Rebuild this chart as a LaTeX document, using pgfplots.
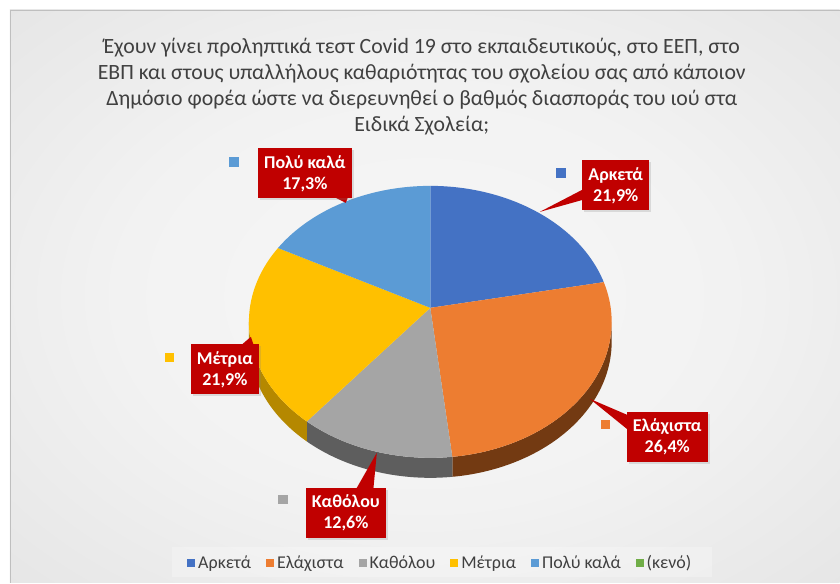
\documentclass[border=0pt]{standalone}
\usepackage{fontspec}
\setmainfont{Carlito}
\usepackage{pgfplots}
\pgfplotsset{compat=1.18}
\usetikzlibrary{shadows}
\definecolor{cA}{HTML}{4472C4}
\definecolor{cE}{HTML}{ED7D31}
\definecolor{cK}{HTML}{A5A5A5}
\definecolor{cM}{HTML}{FFC000}
\definecolor{cP}{HTML}{5B9BD5}
\definecolor{cN}{HTML}{70AD47}
\definecolor{sE}{HTML}{733A12}
\definecolor{sK}{HTML}{5E5E5E}
\definecolor{sM}{HTML}{B58800}
\definecolor{lab}{HTML}{C00000}
\definecolor{ttl}{HTML}{404040}
\pgfdeclareradialshading{bgshade}{\pgfpoint{0bp}{0bp}}{rgb(0bp)=(0.965,0.965,0.965);rgb(18bp)=(0.95,0.95,0.95);rgb(40bp)=(0.89,0.89,0.89);rgb(55bp)=(0.84,0.84,0.84);rgb(75bp)=(0.80,0.80,0.80)}
% data (percent)
\def\vA{21.9}\def\vE{26.4}\def\vK{12.6}\def\vM{21.9}\def\vP{17.3}
\pgfmathsetmacro\tot{\vA+\vE+\vK+\vM+\vP}
\pgfmathsetmacro\aA{90-360*\vA/\tot}
\pgfmathsetmacro\aE{\aA-360*\vE/\tot}
\pgfmathsetmacro\aK{\aE-360*\vK/\tot}
\pgfmathsetmacro\aM{\aK-360*\vM/\tot}
\pgfmathsetmacro\aP{\aM-360*\vP/\tot}
\pgfplotsset{legend image code/.code={\fill[#1] (0pt,-4pt) rectangle (8pt,4pt);}}
\begin{document}
\begin{tikzpicture}
\begin{axis}[
  width=840pt, height=583pt, scale only axis,
  xmin=0, xmax=840, ymin=0, ymax=583,
  hide axis, clip=false,
  declare function={
    PX(\t)=430.5+180.5*cos(\t)/(1+0.103*sin(\t));
    PY(\t)=275+134.6*sin(\t)/(1+0.103*sin(\t));
    TT(\s,\a,\b)=\a+(\b-\a)*min(\s,1)-(\b-\a)*max(0,\s-1.01)/0.99;
    OFF(\s)=20*min(1,max(0,(\s-1)*100));
  },
  legend style={at={(axis cs:441,20)}, anchor=center, draw=none, fill=none,
    legend columns=-1, column sep=0pt,
    font=\fontsize{18}{20}\selectfont, text=black!75,
    nodes={inner xsep=3pt, inner ysep=0pt},
    /tikz/every even column/.append style={column sep=12pt}},
]
\fill[white] (axis cs:0,0) rectangle (axis cs:840,583);
\shade[shading=bgshade] (axis cs:10,0) rectangle (axis cs:840,573);
\draw[black!25, line width=0.8pt] (axis cs:10,0) -- (axis cs:10,573) -- (axis cs:840,573);
\fill[white, opacity=0.25] (axis cs:172,6) rectangle (axis cs:712,36);
% sides of the pie
\addplot[fill=sE, draw=none, domain=0:2, samples=201, forget plot]
  ({PX(TT(x,-5.9,\aE))},{PY(TT(x,-5.9,\aE))-OFF(x)}) -- cycle;
\addplot[fill=sK, draw=none, domain=0:2, samples=201, forget plot]
  ({PX(TT(x,\aE,\aK))},{PY(TT(x,\aE,\aK))-OFF(x)}) -- cycle;
\addplot[fill=sM, draw=none, domain=0:2, samples=201, forget plot]
  ({PX(TT(x,\aK,-174.1))},{PY(TT(x,\aK,-174.1))-OFF(x)}) -- cycle;
% top faces
\addplot[fill=cA, draw=none, domain=\aA:90, samples=60] ({PX(x)},{PY(x)}) -- (axis cs:430.5,275) -- cycle;
\addplot[fill=cE, draw=none, domain=\aE:\aA, samples=60] ({PX(x)},{PY(x)}) -- (axis cs:430.5,275) -- cycle;
\addplot[fill=cK, draw=none, domain=\aK:\aE, samples=40] ({PX(x)},{PY(x)}) -- (axis cs:430.5,275) -- cycle;
\addplot[fill=cM, draw=none, domain=\aM:\aK, samples=60] ({PX(x)},{PY(x)}) -- (axis cs:430.5,275) -- cycle;
\addplot[fill=cP, draw=none, domain=\aP:\aM, samples=60] ({PX(x)},{PY(x)}) -- (axis cs:430.5,275) -- cycle;
\addlegendimage{fill=cN, draw=none}
% data labels
\tikzset{lbl/.style={fill=lab, text=white, font=\bfseries\fontsize{18}{21}\selectfont, align=center,
  inner xsep=6pt, inner ysep=0pt, minimum height=50pt,
  drop shadow={shadow xshift=2pt, shadow yshift=-2pt, opacity=0.22}}}
% Arketa
\fill[lab] (axis cs:540,371) -- (axis cs:590,397) -- (axis cs:590,385) -- cycle;
\node[lbl] at (axis cs:616,397.5) {Αρκετά\\21,9\%};
\fill[cA] (axis cs:556,405) rectangle (axis cs:566,415);
% Elaxista
\fill[lab] (axis cs:590,184) -- (axis cs:632,166) -- (axis cs:632,150) -- cycle;
\node[lbl] at (axis cs:667.5,146) {Ελάχιστα\\26,4\%};
\fill[cE] (axis cs:601,154) rectangle (axis cs:610,163);
% Katholou
\fill[lab] (axis cs:377,130) -- (axis cs:353,88) -- (axis cs:373,88) -- cycle;
\node[lbl] at (axis cs:346,70) {Καθόλου\\12,6\%};
\fill[cK] (axis cs:278,79) rectangle (axis cs:288,88);
% Metria
\fill[lab] (axis cs:251,246) -- (axis cs:237,234) -- (axis cs:255,234) -- cycle;
\node[lbl] at (axis cs:225,213.5) {Μέτρια\\21,9\%};
\fill[cM] (axis cs:165,221) rectangle (axis cs:174,230);
% Poly kala
\fill[lab] (axis cs:346,380) -- (axis cs:330,388) -- (axis cs:349,388) -- cycle;
\node[lbl] at (axis cs:305,409.5) {Πολύ καλά\\17,3\%};
\fill[cP] (axis cs:229,416) rectangle (axis cs:239,426);
% title
\tikzset{ttlst/.style={anchor=base, text=ttl, font=\fontsize{21.8}{26}\selectfont, inner sep=0pt}}
\node[ttlst] at (axis cs:422,529) {Έχουν γίνει προληπτικά τεστ Covid 19 στο εκπαιδευτικούς, στο ΕΕΠ, στο};
\node[ttlst] at (axis cs:422,503) {ΕΒΠ και στους υπαλλήλους καθαριότητας του σχολείου σας από κάποιον};
\node[ttlst] at (axis cs:422,477) {Δημόσιο φορέα ώστε να διερευνηθεί ο βαθμός διασποράς του ιού στα};
\node[ttlst] at (axis cs:422,451) {Ειδικά Σχολεία;};
\legend{Αρκετά, Ελάχιστα, Καθόλου, Μέτρια, Πολύ καλά, (κενό)}
\end{axis}
\end{tikzpicture}
\end{document}
